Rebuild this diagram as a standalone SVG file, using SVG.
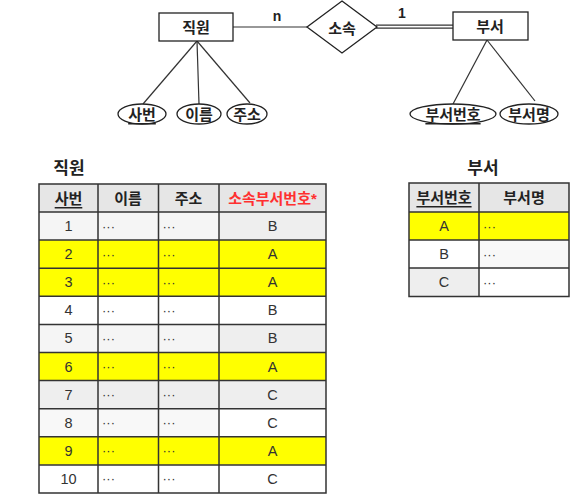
<svg xmlns="http://www.w3.org/2000/svg" width="578" height="503" viewBox="0 0 578 503">
<style>
text{font-family:"Liberation Sans","Noto Sans CJK KR",sans-serif;dominant-baseline:central;text-anchor:middle;fill:#222}
.b{font-weight:bold}
.er{fill:#fff;stroke:#222;stroke-width:1.3}
.ln{stroke:#333;stroke-width:1.2;fill:none}
.t{font-size:15px;font-weight:bold}
.c{font-size:14.5px;fill:#333}
.d{font-size:13px;fill:#333;text-anchor:start}
.grid{stroke:#333;stroke-width:1.5;fill:none}
.y{fill:#ffff00}.g1{fill:#f5f5f5}.g2{fill:#eeeeee}.w{fill:#ffffff}.h{fill:#e6e6e6}.g3{fill:#f8f8f8}
</style>
<rect width="578" height="503" fill="#fff"/>
<g id="connectors">
<line class="ln" x1="233" y1="27" x2="307" y2="27"/>
<line class="ln" x1="376" y1="25.2" x2="453" y2="25.2"/>
<line class="ln" x1="376" y1="28.2" x2="453" y2="28.2"/>
<line class="ln" x1="197" y1="41" x2="143" y2="104"/>
<line class="ln" x1="197" y1="41" x2="199" y2="104"/>
<line class="ln" x1="197" y1="41" x2="250" y2="103"/>
<line class="ln" x1="487" y1="40" x2="453" y2="104"/>
<line class="ln" x1="487" y1="40" x2="535" y2="101"/>
<text class="b" x="277" y="16" font-size="14">n</text>
<text class="b" x="402" y="13" font-size="14">1</text>
</g>
<g id="node-employee"><rect class="er" x="159" y="13" width="74" height="28"/><text class="t" x="196" y="27.5">직원</text></g>
<g id="node-belongs"><polygon class="er" points="342,1 377,27 342,53 307,27"/><text class="t" x="342" y="28">소속</text></g>
<g id="node-dept"><rect class="er" x="453" y="12" width="75" height="28"/><text class="t" x="490" y="26.5">부서</text></g>
<g id="attr-empno"><ellipse class="er" cx="142" cy="114" rx="24" ry="10"/><text class="t" x="142" y="114.5" text-decoration="underline">사번</text></g>
<g id="attr-name"><ellipse class="er" cx="199" cy="114" rx="22" ry="10"/><text class="t" x="199" y="114.5">이름</text></g>
<g id="attr-addr"><ellipse class="er" cx="247" cy="114" rx="20" ry="10"/><text class="t" x="247" y="114.5">주소</text></g>
<g id="attr-deptno"><ellipse class="er" cx="453" cy="114" rx="43" ry="10"/><text class="t" x="453" y="114.5" text-decoration="underline">부서번호</text></g>
<g id="attr-deptname"><ellipse class="er" cx="529" cy="114" rx="29" ry="10"/><text class="t" x="529" y="114.5">부서명</text></g>

<g id="table-employee">
<text class="b" x="69" y="168" font-size="17">직원</text>
<rect class="h" x="39" y="184" width="287" height="28"/>
<rect class="g1" x="39" y="212" width="180" height="28.1"/><rect class="g2" x="219" y="212" width="107" height="28.1"/>
<rect class="y" x="39" y="240.1" width="287" height="56.2"/>
<rect class="w" x="39" y="296.3" width="287" height="28.1"/>
<rect class="g1" x="39" y="324.4" width="180" height="28.1"/><rect class="g2" x="219" y="324.4" width="107" height="28.1"/>
<rect class="y" x="39" y="352.5" width="287" height="28.1"/>
<rect class="g2" x="39" y="380.6" width="287" height="28.1"/>
<rect class="g3" x="39" y="408.7" width="180" height="28.1"/><rect class="w" x="219" y="408.7" width="107" height="28.1"/>
<rect class="y" x="39" y="436.8" width="287" height="28.1"/>
<rect class="w" x="39" y="464.9" width="287" height="28.1"/>
<path class="grid" d="M39 184H326V493H39Z M98 184V493 M158.5 184V493 M219 184V493 M39 212H326 M39 240.1H326 M39 268.2H326 M39 296.3H326 M39 324.4H326 M39 352.5H326 M39 380.6H326 M39 408.7H326 M39 436.8H326 M39 464.9H326"/>
<text class="t" x="68.5" y="198.5" text-decoration="underline" fill="#333">사번</text>
<text class="t" x="128" y="198.5">이름</text>
<text class="t" x="188.5" y="198.5">주소</text>
<text class="t" x="272.5" y="198.5" style="fill:#ff3030">소속부서번호*</text>
<g class="rows">
<text class="c" x="68.5" y="226">1</text><text class="d" x="102" y="226">···</text><text class="d" x="162.5" y="226">···</text><text class="c" x="272.5" y="226">B</text>
<text class="c" x="68.5" y="254.1">2</text><text class="d" x="102" y="254.1">···</text><text class="d" x="162.5" y="254.1">···</text><text class="c" x="272.5" y="254.1">A</text>
<text class="c" x="68.5" y="282.2">3</text><text class="d" x="102" y="282.2">···</text><text class="d" x="162.5" y="282.2">···</text><text class="c" x="272.5" y="282.2">A</text>
<text class="c" x="68.5" y="310.3">4</text><text class="d" x="102" y="310.3">···</text><text class="d" x="162.5" y="310.3">···</text><text class="c" x="272.5" y="310.3">B</text>
<text class="c" x="68.5" y="338.4">5</text><text class="d" x="102" y="338.4">···</text><text class="d" x="162.5" y="338.4">···</text><text class="c" x="272.5" y="338.4">B</text>
<text class="c" x="68.5" y="366.5">6</text><text class="d" x="102" y="366.5">···</text><text class="d" x="162.5" y="366.5">···</text><text class="c" x="272.5" y="366.5">A</text>
<text class="c" x="68.5" y="394.6">7</text><text class="d" x="102" y="394.6">···</text><text class="d" x="162.5" y="394.6">···</text><text class="c" x="272.5" y="394.6">C</text>
<text class="c" x="68.5" y="422.7">8</text><text class="d" x="102" y="422.7">···</text><text class="d" x="162.5" y="422.7">···</text><text class="c" x="272.5" y="422.7">C</text>
<text class="c" x="68.5" y="450.8">9</text><text class="d" x="102" y="450.8">···</text><text class="d" x="162.5" y="450.8">···</text><text class="c" x="272.5" y="450.8">A</text>
<text class="c" x="68.5" y="478.9">10</text><text class="d" x="102" y="478.9">···</text><text class="d" x="162.5" y="478.9">···</text><text class="c" x="272.5" y="478.9">C</text>
</g>
</g>

<g id="table-dept">
<text class="b" x="483" y="168" font-size="17">부서</text>
<rect class="h" x="409" y="183" width="160" height="29"/>
<rect class="y" x="409" y="212" width="160" height="28"/>
<rect class="w" x="409" y="240" width="70" height="28"/><rect class="g3" x="479" y="240" width="90" height="28"/>
<rect class="g2" x="409" y="268" width="70" height="28.5"/><rect class="w" x="479" y="268" width="90" height="28.5"/>
<path class="grid" d="M409 183H569V296.5H409Z M479 183V296.5 M409 212H569 M409 240H569 M409 268H569"/>
<text class="t" x="444" y="197.5" text-decoration="underline" fill="#333">부서번호</text>
<text class="t" x="524" y="197.5">부서명</text>
<text class="c" x="444" y="226">A</text><text class="d" x="483" y="226">···</text>
<text class="c" x="444" y="254">B</text><text class="d" x="483" y="254">···</text>
<text class="c" x="444" y="282">C</text><text class="d" x="483" y="282">···</text>
</g>
</svg>
